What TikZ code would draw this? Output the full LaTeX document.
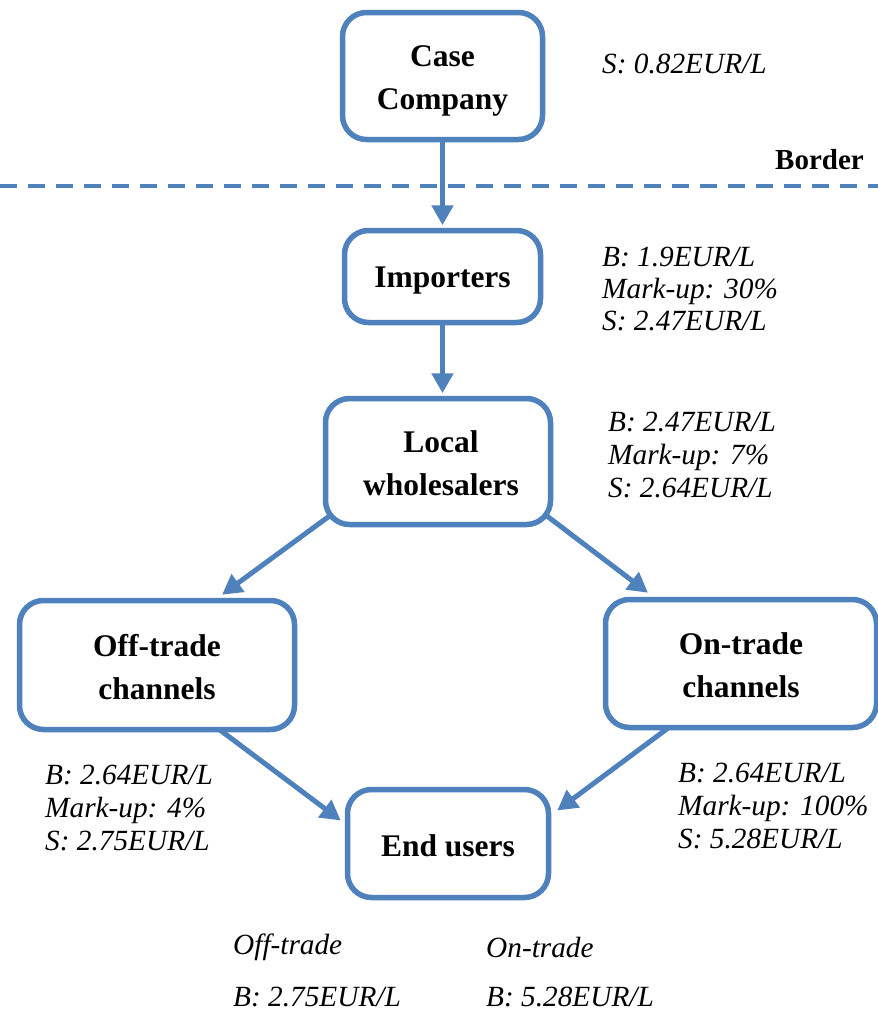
\documentclass[tikz,border=0pt]{standalone}
\usepackage{fontspec}
\setmainfont{Liberation Serif}
\usetikzlibrary{arrows.meta,backgrounds}
\definecolor{flowblue}{RGB}{79,129,189}
\begin{document}
\begin{tikzpicture}[x=1pt,y=-1pt,
  stage/.style={draw=flowblue, line width=5.5pt, rounded corners=24pt, fill=white,
    inner sep=0pt},
  stagetext/.style={align=center, inner sep=0pt,
    font=\bfseries\fontsize{31.5}{43}\selectfont},
  flow/.style={draw=flowblue, line width=5pt, -{Triangle[length=20pt,width=21pt]}},
  price/.style={anchor=west, inner sep=0pt, align=left,
    font=\itshape\fontsize{29.3}{33}\selectfont},
  borderline/.style={draw=flowblue, line width=4pt, dash pattern=on 17pt off 11pt}]
\useasboundingbox (0,0) rectangle (878,1012);

% the national border
\coordinate (bl) at (0,186);
\coordinate (br) at (878,186);
\draw[borderline] (bl) -- (br);
\node[anchor=west, inner sep=0pt, font=\bfseries\fontsize{29}{34}\selectfont] (bordertxt) at (775,160) {Border};

% chain stages: boxes, then their labels
\node[stage, minimum width=200pt, minimum height=127pt] (cc) at (442.5,76) {};
\node[stage, minimum width=196pt, minimum height=92pt] (imp) at (442.5,276.5) {};
\node[stage, minimum width=225pt, minimum height=126pt] (lw) at (438,461.5) {};
\node[stage, minimum width=275pt, minimum height=129pt] (off) at (157,665) {};
\node[stage, minimum width=271pt, minimum height=128pt] (on) at (741,663.5) {};
\node[stage, minimum width=201pt, minimum height=108pt] (eu) at (448,843.5) {};

\node[stagetext] (cc-t) at ([yshift=-4.5pt]cc.center) {Case\\Company};
\node[stagetext] (imp-t) at ([yshift=-4pt]imp.center) {Importers};
\node[stagetext] (lw-t) at ([xshift=3pt,yshift=-1.5pt]lw.center) {Local\\wholesalers};
\node[stagetext] (off-t) at ([yshift=-2pt]off.center) {Off-trade\\channels};
\node[stagetext] (on-t) at ([yshift=-2pt]on.center) {On-trade\\channels};
\node[stagetext] (eu-t) at ([yshift=-2pt]eu.center) {End users};

% arrows between the stages, behind the white boxes
\begin{pgfonlayer}{background}
\draw[flow] (cc.center) -- ([yshift=2.5pt]imp.north);
\draw[flow] (imp.center) -- ([yshift=2.5pt]imp.south |- lw.north);
\draw[flow] ([xshift=20pt,yshift=21pt]lw.south west) -- ([xshift=65pt,yshift=3pt]off.north);
\draw[flow] ([xshift=-16.5pt,yshift=19pt]lw.south east) -- ([xshift=-93pt,yshift=4pt]on.north);
\draw[flow] ([xshift=54pt,yshift=9pt]off.south) -- ([xshift=-4pt,yshift=23pt]eu.west);
\draw[flow] ([xshift=-62.5pt,yshift=10pt]on.south) -- ([xshift=6pt,yshift=33pt]eu.east);
\end{pgfonlayer}

% prices and mark-ups
\node[price] (p0) at (602,64) {S: 0.82EUR/L};
\node[price, font=\itshape\fontsize{29.3}{32}\selectfont] (p1) at (602,289) {B: 1.9EUR/L\\Mark-up: 30\%\\S: 2.47EUR/L};
\node[price] (p2) at (608,455) {B: 2.47EUR/L\\Mark-up: 7\%\\S: 2.64EUR/L};
\node[price] (p3) at (45,808) {B: 2.64EUR/L\\Mark-up: 4\%\\S: 2.75EUR/L};
\node[price] (p4) at (678,806) {B: 2.64EUR/L\\Mark-up: 100\%\\S: 5.28EUR/L};

% end-user prices
\node[price] (offlab) at (233,947) {Off-trade};
\node[price] (offb) at (233,997) {B: 2.75EUR/L};
\node[price] (onlab) at (486,947) {On-trade};
\node[price] (onb) at (486,997) {B: 5.28EUR/L};
\end{tikzpicture}
\end{document}
